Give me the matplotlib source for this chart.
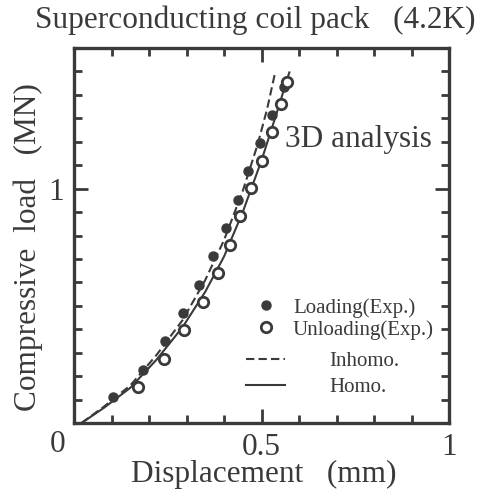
import matplotlib
matplotlib.use("Agg")
import matplotlib.pyplot as plt
from matplotlib.lines import Line2D
from matplotlib.ticker import MultipleLocator, FixedLocator

plt.rcParams['font.family'] = ['Liberation Serif', 'DejaVu Serif']

INK = '#3a3a3a'
FS = 22.5

# Loading (experiment) - filled circles
load_x = [0.105, 0.183, 0.243, 0.290, 0.334, 0.370, 0.405, 0.437, 0.465, 0.496, 0.527, 0.560]
load_y = [0.109, 0.226, 0.349, 0.469, 0.590, 0.712, 0.833, 0.953, 1.074, 1.193, 1.315, 1.435]

# Unloading (experiment) - open circles
unload_x = [0.171, 0.241, 0.292, 0.343, 0.383, 0.416, 0.443, 0.472, 0.500, 0.527, 0.552, 0.567]
unload_y = [0.155, 0.272, 0.396, 0.516, 0.640, 0.760, 0.882, 1.003, 1.119, 1.243, 1.363, 1.457]

# 3D analysis, homogeneous model (solid)
homo_x = [0.02, 0.08, 0.15, 0.22, 0.29, 0.35, 0.40, 0.45, 0.50, 0.54, 0.575]
homo_y = [0.00, 0.065, 0.15, 0.27, 0.41, 0.56, 0.71, 0.90, 1.12, 1.32, 1.50]

# 3D analysis, inhomogeneous model (dashed)
inhomo_x = [0.02, 0.08, 0.15, 0.22, 0.29, 0.35, 0.40, 0.45, 0.49, 0.515, 0.537]
inhomo_y = [0.00, 0.07, 0.16, 0.29, 0.44, 0.61, 0.78, 0.99, 1.19, 1.34, 1.50]

x_ticks = [0.5, 1]
x_ticklabels = ['0.5', '1']
y_ticks = [1]
y_ticklabels = ['1']

fig = plt.figure(figsize=(4.83, 4.90), dpi=100)
ax = fig.add_axes([74/483, 1-423/490, 375/483, 375/490])

dash = (0, (4, 2))
ax.plot(homo_x, homo_y, color=INK, lw=1.5, solid_capstyle='butt')
ax.plot(inhomo_x, inhomo_y, color=INK, lw=1.5, linestyle=dash)
ax.plot(load_x, load_y, 'o', color=INK, ms=6.5, mec=INK, zorder=3)
ax.plot(unload_x, unload_y, 'o', mfc='white', mec=INK, ms=7.5, mew=2.0, zorder=4)

ax.set_xlim(0, 1)
ax.set_ylim(0, 1.6)

ax.xaxis.set_major_locator(FixedLocator(x_ticks))
ax.set_xticklabels(x_ticklabels)
ax.xaxis.set_minor_locator(MultipleLocator(0.1))
ax.yaxis.set_major_locator(FixedLocator(y_ticks))
ax.set_yticklabels(y_ticklabels)
ax.yaxis.set_minor_locator(MultipleLocator(0.1))

ax.tick_params(which='both', direction='in', top=True, right=True, color=INK,
               labelcolor=INK, labelsize=FS, width=2.0)
ax.tick_params(which='major', length=10, pad=7)
ax.tick_params(which='minor', length=6)
for s in ax.spines.values():
    s.set_linewidth(2.4)
    s.set_color(INK)

fig.text(58/483, 1-444/490, '0', fontsize=FS, color=INK, ha='center', va='center')
fig.text(255/483, 1-20/490, 'Superconducting coil pack   (4.2K)', fontsize=FS,
         color=INK, ha='center', va='center')
fig.text(264/483, 1-474/490, 'Displacement   (mm)', fontsize=FS, color=INK,
         ha='center', va='center')
fig.text(28/483, 1-247/490, 'Compressive  load   (MN)', fontsize=FS, color=INK,
         ha='center', va='center', rotation=90)
ax.text(0.563, 0.755, '3D analysis', transform=ax.transAxes, fontsize=FS, color=INK,
        ha='left', va='center')

h1 = [Line2D([], [], marker='o', ls='none', color=INK, ms=6.5),
      Line2D([], [], marker='o', ls='none', mfc='white', mec=INK, ms=7.5, mew=2.0)]
leg1 = ax.legend(h1, ['Loading(Exp.)', 'Unloading(Exp.)'], loc='upper left',
                 bbox_to_anchor=(0.456, 0.361), frameon=False, fontsize=15,
                 handlelength=1.0, handletextpad=0.8, borderpad=0, labelspacing=0.1,
                 labelcolor=INK)
ax.add_artist(leg1)
h2 = [Line2D([], [], color=INK, lw=1.5, linestyle=dash),
      Line2D([], [], color=INK, lw=1.5)]
ax.legend(h2, ['Inhomo.', 'Homo.'], loc='upper left', bbox_to_anchor=(0.43, 0.218),
          frameon=False, fontsize=15, handlelength=1.9, handletextpad=2.1,
          borderpad=0, labelspacing=0.3, labelcolor=INK)

fig.savefig('out.png', dpi=100)
